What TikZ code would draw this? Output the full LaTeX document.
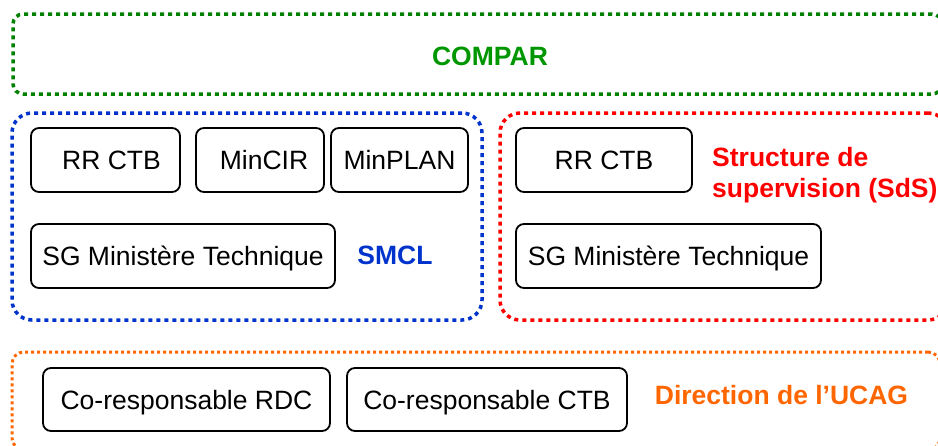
\documentclass[tikz,border=0pt]{standalone}
\usepackage{fontspec}
\setmainfont{Liberation Sans}
\definecolor{cgreenline}{RGB}{0,128,0}
\definecolor{cgreentext}{RGB}{0,150,0}
\definecolor{cblue}{RGB}{0,51,204}
\definecolor{cred}{RGB}{255,0,0}
\definecolor{corange}{RGB}{255,102,0}
\tikzset{
  grp/.style={draw, line width=3.5pt, dash pattern=on 4pt off 4pt, rounded corners=#1, inner sep=0pt},
  grp/.default=20pt,
  boxnode/.style={draw=black, line width=1.8pt, rounded corners=8pt, inner sep=0pt,
    minimum height=64pt, text height=19pt, text depth=0pt,
    font=\fontsize{26.5}{30}\selectfont},
  grplabel/.style={font=\fontsize{26.5}{31}\bfseries\selectfont, inner sep=0pt}
}
\begin{document}
\begin{tikzpicture}[x=1pt,y=-1pt]
\useasboundingbox (0,0) rectangle (938,445);
% groups
\node[grp=10pt, draw=cgreenline, minimum width=929pt, minimum height=80pt] (compar) at (477.5,54) {};
\node[grp, draw=cblue, minimum width=470pt, minimum height=207pt] (smcl) at (247,216.5) {};
\node[grp, draw=cred, minimum width=448pt, minimum height=207pt] (sds) at (724,216.5) {};
\node[grp=12pt, draw=corange, line width=3pt, dash pattern=on 3pt off 3pt, minimum width=928pt, minimum height=98pt] (ucag) at (476,401) {};
% group labels
\node[grplabel, text=cgreentext] (comparlbl) at (490,56) {COMPAR};
\node[grplabel, text=cblue] (smcllbl) at (395,255.5) {SMCL};
\node[grplabel, text=cred, anchor=west, align=left] (sdslbl) at (712,175) {Structure de\\supervision (SdS)};
\node[grplabel, text=corange] (ucaglbl) at (781.5,395.5) {Direction de l’UCAG};
% boxes
\node[boxnode, minimum width=149pt] (rr1) at (105.5,160) {\hspace*{12pt}RR CTB};
\node[boxnode, minimum width=128pt] (mincir) at (260,160) {\hspace*{8pt}MinCIR};
\node[boxnode, minimum width=137pt] (minplan) at (399.5,160) {MinPLAN};
\node[boxnode, minimum width=304pt] (sg1) at (183,256) {SG Ministère Technique};
\node[boxnode, minimum width=176pt] (rr2) at (604,160) {RR CTB};
\node[boxnode, minimum width=305pt] (sg2) at (668.5,256) {SG Ministère Technique};
\node[boxnode, minimum width=287pt, minimum height=63pt] (corrdc) at (186.5,399.5) {Co-responsable RDC};
\node[boxnode, minimum width=280pt, minimum height=63pt] (coctb) at (487,399.5) {Co-responsable CTB};
\end{tikzpicture}
\end{document}
